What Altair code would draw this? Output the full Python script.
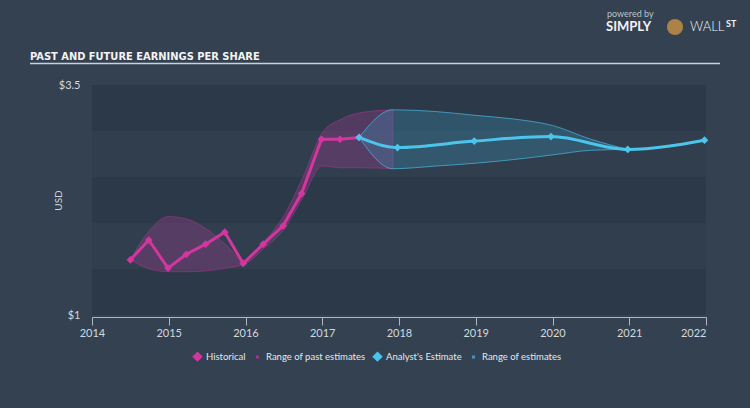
import altair as alt
import pandas as pd

# ---- data ----
hist_year = [2014.5, 2014.74, 2014.99, 2015.23, 2015.48, 2015.73, 2015.97,
             2016.23, 2016.49, 2016.73, 2016.99, 2017.23, 2017.48]
hist_eps = [1.60, 1.815, 1.51, 1.66, 1.77, 1.90, 1.56,
            1.77, 1.97, 2.32, 2.91, 2.91, 2.93]

est_year = [2017.48, 2017.98, 2018.98, 2019.98, 2020.98, 2021.98]
est_eps = [2.93, 2.82, 2.89, 2.94, 2.80, 2.90]

past_year = [2014.5, 2014.75, 2015.0, 2015.25, 2015.5, 2015.75, 2016.0,
             2016.25, 2016.5, 2016.75, 2017.0, 2017.25, 2017.5, 2017.92]
past_hi = [1.60, 1.92, 2.07, 2.04, 1.93, 1.76, 1.57,
           1.80, 2.08, 2.50, 2.98, 3.13, 3.20, 3.23]
past_lo = [1.60, 1.50, 1.47, 1.47, 1.48, 1.51, 1.56,
           1.73, 1.93, 2.28, 2.62, 2.60, 2.60, 2.59]

fut_year = [2017.48, 2017.92, 2018.5, 2019.0, 2019.5, 2020.0, 2020.5, 2020.98]
fut_hi = [2.93, 3.23, 3.21, 3.17, 3.13, 3.06, 2.91, 2.80]
fut_lo = [2.93, 2.59, 2.62, 2.65, 2.69, 2.74, 2.79, 2.80]

band_lo = [1.0, 1.5, 2.0, 2.5, 3.0]
band_hi = [1.5, 2.0, 2.5, 3.0, 3.5]
band_shade = ["dark", "light", "dark", "light", "dark"]

series_names = ["Historical", "Range of past estimates", "Analyst's Estimate", "Range of estimates"]
year_ticks = [2014, 2015, 2016, 2017, 2018, 2019, 2020, 2021, 2022]
y_ticks = [1, 3.5]
title_text = ["PAST AND FUTURE EARNINGS PER SHARE"]

PINK = "#d3369f"
CYAN = "#4cc5ec"
BG = "#334151"
TITLE_FONT = "'DejaVu Sans Condensed', 'Liberation Sans Narrow', 'Roboto Condensed', Roboto, sans-serif"

hist = pd.DataFrame({"year": hist_year, "eps": hist_eps, "series": "Historical"})
est = pd.DataFrame({"year": est_year, "eps": est_eps, "series": "Analyst's Estimate"})
past = pd.DataFrame({"year": past_year, "hi": past_hi, "lo": past_lo, "series": "Range of past estimates"})
fut = pd.DataFrame({"year": fut_year, "hi": fut_hi, "lo": fut_lo, "series": "Range of estimates"})
bands = pd.DataFrame({"lo": band_lo, "hi": band_hi, "shade": band_shade})

xs = alt.Scale(domain=[2014, 2022], nice=False, zero=False)
ys = alt.Scale(domain=[1, 3.5], nice=False, zero=False)

color_scale = alt.Scale(domain=series_names, range=[PINK, "#8e3d86", CYAN, "#3d95bb"])
SQ = "M-0.3,-0.3H0.3V0.3H-0.3Z"
shape_scale = alt.Scale(domain=series_names, range=["diamond", SQ, "diamond", SQ])

band_layer = alt.Chart(bands).mark_rect().encode(
    x=alt.datum(2014, scale=xs),
    x2=alt.datum(2022),
    y=alt.Y("lo:Q", scale=ys),
    y2="hi:Q",
    fill=alt.Fill("shade:N", scale=alt.Scale(domain=["light", "dark"],
                                              range=["#303e4e", "#2c3948"]), legend=None),
)

past_area = alt.Chart(past).mark_area(interpolate="monotone", fillOpacity=0.4,
                                      stroke=PINK, strokeOpacity=0.5, strokeWidth=0.8).encode(
    x=alt.X("year:Q", scale=xs),
    y=alt.Y("lo:Q", scale=ys),
    y2="hi:Q",
    color=alt.Color("series:N", scale=color_scale),
)

fut_area = alt.Chart(fut).mark_area(interpolate="monotone", fillOpacity=0.3,
                                    stroke=CYAN, strokeOpacity=0.8, strokeWidth=0.8).encode(
    x=alt.X("year:Q", scale=xs),
    y=alt.Y("lo:Q", scale=ys),
    y2="hi:Q",
    color=alt.Color("series:N", scale=color_scale),
)

hist_line = alt.Chart(hist).mark_line(color=PINK, strokeWidth=3).encode(
    x=alt.X("year:Q", scale=xs),
    y=alt.Y("eps:Q", scale=ys),
)
est_line = alt.Chart(est).mark_line(color=CYAN, strokeWidth=3, interpolate="monotone").encode(
    x=alt.X("year:Q", scale=xs),
    y=alt.Y("eps:Q", scale=ys),
)

pts = pd.concat([hist, est])
points = alt.Chart(pts).mark_point(filled=True, size=60, opacity=1).encode(
    x=alt.X("year:Q", scale=xs,
            axis=alt.Axis(values=year_ticks, format="d", title=None, grid=False,
                          domainColor="#aeb8c3", tickColor="#aeb8c3", tickSize=8, offset=2,
                          labelPadding=2, labelColor="#d3d9df", labelFont="Lato", labelFontSize=11,
                          labelAlign=alt.expr("datum.value == 2022 ? 'right' : 'center'"))),
    y=alt.Y("eps:Q", scale=ys,
            axis=alt.Axis(values=y_ticks, format="$~g", title="USD", grid=False, domain=False,
                          ticks=False, labelPadding=12, labelColor="#d3d9df", labelFont="Lato",
                          labelFontSize=11, titleColor="#d3d9df", titleFont="Lato",
                          titleFontSize=10, titleFontWeight="normal", titleX=-29, titleY=115)),
    color=alt.Color("series:N", scale=color_scale,
                    legend=alt.Legend(title=None, orient="none", direction="horizontal",
                                      legendX=100, legendY=266, labelColor="#e4e8ec",
                                      labelFont="Lato", labelFontSize=9.5, symbolSize=110,
                                      labelOffset=3, columnPadding=6, symbolStrokeWidth=0)),
    shape=alt.Shape("series:N", scale=shape_scale),
)

title = alt.Chart(pd.DataFrame({"t": title_text})).mark_text(
    align="left", baseline="alphabetic", font=TITLE_FONT, fontWeight="bold",
    fontSize=11, color="#f2f4f6").encode(x=alt.value(-62), y=alt.value(-25), text="t:N")

title_rule = alt.Chart(pd.DataFrame({"t": title_text})).mark_rule(
    color="#c9d1d9", strokeWidth=1.5).encode(x=alt.value(-62), x2=alt.value(628), y=alt.value(-21.5))

logo_small = alt.Chart(pd.DataFrame({"t": ["powered by"]})).mark_text(
    align="left", font="Lato", fontSize=9, color="#b9c2cb").encode(
    x=alt.value(515), y=alt.value(-71), text="t:N")
logo_simply = alt.Chart(pd.DataFrame({"t": ["SIMPLY"]})).mark_text(
    align="left", font="Lato", fontWeight="bold", fontSize=13, color="#f2f4f6").encode(
    x=alt.value(514), y=alt.value(-58), text="t:N")
logo_badge = alt.Chart(pd.DataFrame({"t": ["logo"]})).mark_point(
    filled=True, shape="circle", size=260, color="#b98a45", opacity=0.9).encode(
    x=alt.value(583), y=alt.value(-58))
logo_wall = alt.Chart(pd.DataFrame({"t": ["WALL"]})).mark_text(
    align="left", font="Lato", fontWeight=300, fontSize=13, color="#f2f4f6").encode(
    x=alt.value(598), y=alt.value(-58), text="t:N")
logo_st = alt.Chart(pd.DataFrame({"t": ["ST"]})).mark_text(
    align="left", font="Lato", fontWeight="bold", fontSize=9, color="#f2f4f6").encode(
    x=alt.value(634), y=alt.value(-61), text="t:N")

chart = alt.layer(
    band_layer, past_area, fut_area, hist_line, est_line, points,
    title, title_rule, logo_small, logo_simply, logo_badge, logo_wall, logo_st,
).properties(
    width=614, height=230,
    autosize=alt.AutoSizeParams(type="none"),
    padding={"left": 92, "top": 85, "right": 44, "bottom": 93},
    background=BG,
).configure_view(stroke=None)

chart.save("out.html", embed_options={"renderer": "svg", "actions": False})
